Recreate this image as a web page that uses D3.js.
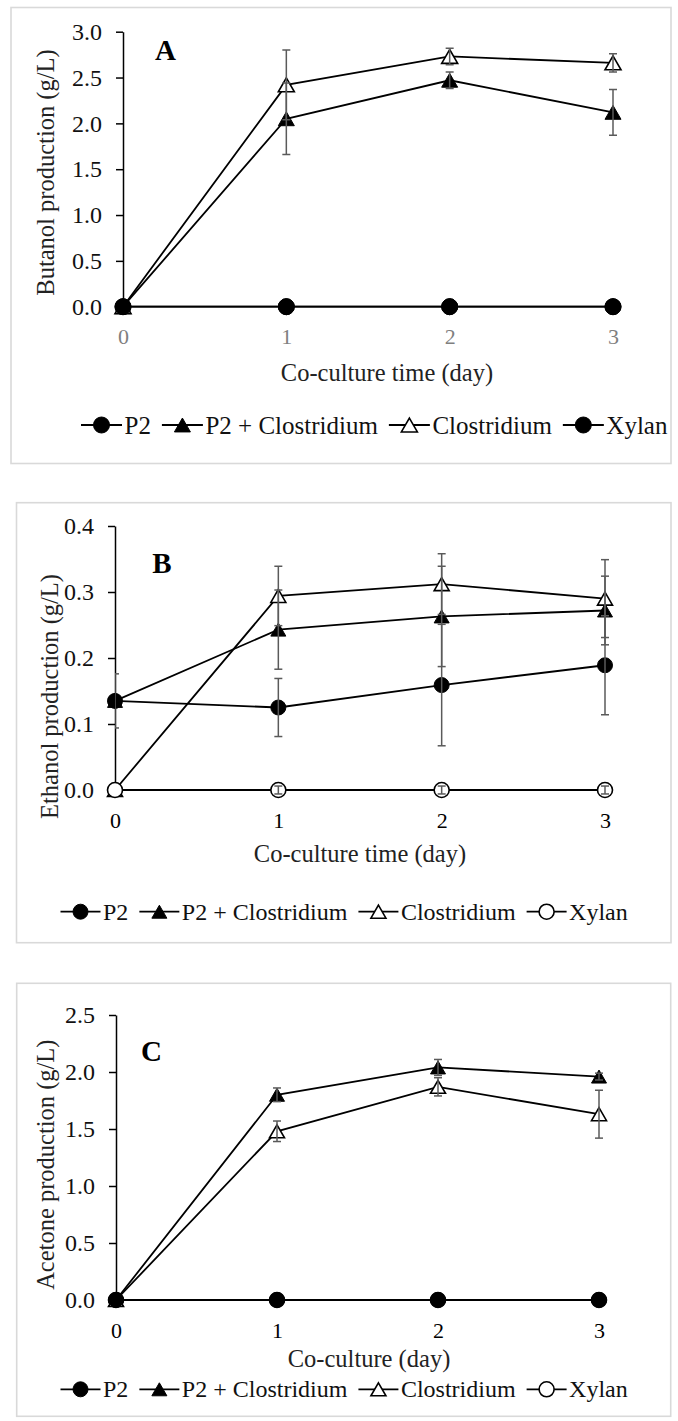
<!DOCTYPE html>
<html>
<head>
<meta charset="utf-8">
<script src="https://cdn.jsdelivr.net/npm/d3@7"></script>
<style>
  body { margin: 0; background: #fff; }
  svg { display: block; }
</style>
</head>
<body>
<svg id="fig" width="678" height="1421"></svg>
<script>
// ---- data ----
const days = [0, 1, 2, 3];
const seriesNames = ["P2", "P2 + Clostridium", "Clostridium", "Xylan"];

// Butanol (g/L)
const butanolP2       = [0, 0, 0, 0];
const butanolP2Clos   = [0, 2.05, 2.47, 2.12];
const butanolClos     = [0, 2.42, 2.73, 2.66];
const butanolXylan    = [0, 0, 0, 0];
const butanolP2Err     = [0, 0, 0, 0];
const butanolP2ClosErr = [0, 0.39, 0.09, 0.25];
const butanolClosErr   = [0, 0.38, 0.09, 0.10];
const butanolXylanErr  = [0, 0, 0, 0];
const butanolTicks = [0, 0.5, 1.0, 1.5, 2.0, 2.5, 3.0];

// Ethanol (g/L)
const ethanolP2       = [0.135, 0.125, 0.159, 0.189];
const ethanolP2Clos   = [0.135, 0.243, 0.263, 0.272];
const ethanolClos     = [0, 0.294, 0.312, 0.290];
const ethanolXylan    = [0, 0, 0, 0];
const ethanolP2Err     = [0.041, 0.044, 0.092, 0.075];
const ethanolP2ClosErr = [0, 0.060, 0.076, 0.052];
const ethanolClosErr   = [0, 0.045, 0.046, 0.059];
const ethanolXylanErr  = [0, 0.006, 0.006, 0.006];
const ethanolTicks = [0, 0.1, 0.2, 0.3, 0.4];

// Acetone (g/L)
const acetoneP2       = [0, 0, 0, 0];
const acetoneP2Clos   = [0, 1.80, 2.04, 1.96];
const acetoneClos     = [0, 1.48, 1.87, 1.63];
const acetoneXylan    = [0, 0, 0, 0];
const acetoneP2Err     = [0, 0, 0, 0];
const acetoneP2ClosErr = [0, 0.06, 0.07, 0.03];
const acetoneClosErr   = [0, 0.09, 0.08, 0.21];
const acetoneXylanErr  = [0, 0, 0, 0];
const acetoneTicks = [0, 0.5, 1.0, 1.5, 2.0, 2.5];

const FONT = "'Liberation Serif', 'Times New Roman', serif";

// ---- panel layout ----
const panels = [
  {
    letter: "A", frame: [11, 7.5, 660, 456],
    axisX: 123, xEnd: 613, yBottom: 306.7, yTop: 31.7, yMax: 3.0, ticks: butanolTicks,
    values: [butanolP2, butanolP2Clos, butanolClos, butanolXylan],
    errors: [butanolP2Err, butanolP2ClosErr, butanolClosErr, butanolXylanErr],
    markers: [["circle", true], ["triangle", true], ["triangle", false], ["circle", true]],
    order: [0, 1, 2, 3],
    r: 8, tri: 16,
    yTitle: "Butanol production (g/L)", yTitlePos: [45.5, 172.5],
    xTitle: "Co-culture time (day)", xTitlePos: [387, 372.7],
    letterPos: [165.5, 50], xTickColor: "#7f7f7f",
    legendY: 425, legendX: 81, legendFont: 25, legendLine: 41
  },
  {
    letter: "B", frame: [16.5, 502.7, 654.5, 440],
    axisX: 115, xEnd: 605, yBottom: 790, yTop: 526, yMax: 0.4, ticks: ethanolTicks,
    values: [ethanolP2, ethanolP2Clos, ethanolClos, ethanolXylan],
    errors: [ethanolP2Err, ethanolP2ClosErr, ethanolClosErr, ethanolXylanErr],
    markers: [["circle", true], ["triangle", true], ["triangle", false], ["circle", false]],
    order: [0, 1, 2, 3],
    r: 7.5, tri: 15,
    yTitle: "Ethanol production (g/L)", yTitlePos: [49, 696.5],
    xTitle: "Co-culture time (day)", xTitlePos: [360, 853.3],
    letterPos: [162, 562.5], xTickColor: "#000",
    legendY: 911.7, legendX: 60.5, legendFont: 24, legendLine: 40
  },
  {
    letter: "C", frame: [16.7, 983.3, 654, 433],
    axisX: 116, xEnd: 599, yBottom: 1300, yTop: 1015, yMax: 2.5, ticks: acetoneTicks,
    values: [acetoneP2, acetoneP2Clos, acetoneClos, acetoneXylan],
    errors: [acetoneP2Err, acetoneP2ClosErr, acetoneClosErr, acetoneXylanErr],
    markers: [["circle", true], ["triangle", true], ["triangle", false], ["circle", false]],
    order: [3, 1, 2, 0],
    r: 7.5, tri: 15,
    yTitle: "Acetone production (g/L)", yTitlePos: [45.5, 1164.7],
    xTitle: "Co-culture (day)", xTitlePos: [369, 1358.3],
    letterPos: [151.5, 1051], xTickColor: "#000",
    legendY: 1389.3, legendX: 60.5, legendFont: 24, legendLine: 40
  }
];

const svg = d3.select("#fig");

function markerPath(kind, p) {
  if (kind === "circle") {
    return d3.symbol(d3.symbolCircle, Math.PI * p.r * p.r)();
  }
  const s = p.tri;
  return d3.symbol(d3.symbolTriangle, s * s * Math.sqrt(3) / 4)();
}
function markerOffset(kind, p) {
  // centre the triangle's bounding box on the point
  if (kind === "circle") return 0;
  return p.tri / (2 * Math.sqrt(3)) / 2;
}
function drawMarker(g, kind, filled, p, cx, cy) {
  g.append("path")
    .attr("d", markerPath(kind, p))
    .attr("transform", `translate(${cx},${cy + markerOffset(kind, p)})`)
    .attr("fill", filled ? "#000" : "#fff")
    .attr("stroke", "#000")
    .attr("stroke-width", filled ? 1 : 1.6);
}
function serif(sel, size) {
  return sel.style("font-family", FONT).style("font-size", size + "px");
}

panels.forEach((p, pi) => {
  const g = svg.append("g");

  // outer frame
  g.append("rect")
    .attr("x", p.frame[0]).attr("y", p.frame[1])
    .attr("width", p.frame[2]).attr("height", p.frame[3])
    .attr("fill", "none").attr("stroke", "#d9d9d9").attr("stroke-width", 1.6);

  const x = d3.scaleLinear().domain([0, 3]).range([p.axisX, p.xEnd]);
  const y = d3.scaleLinear().domain([0, p.yMax]).range([p.yBottom, p.yTop]);

  // y axis
  const ya = g.append("g")
    .attr("transform", `translate(${p.axisX},0)`)
    .call(d3.axisLeft(y).tickValues(p.ticks).tickFormat(d3.format(".1f"))
      .tickSize(7).tickSizeOuter(0).tickPadding(14));
  ya.select(".domain").attr("stroke", "#000").attr("stroke-width", 1.5);
  ya.selectAll(".tick line").attr("stroke", "#000").attr("stroke-width", 1.5);
  serif(ya.selectAll(".tick text"), 24).attr("fill", "#111");

  // x tick labels
  const xa = g.append("g")
    .attr("transform", `translate(0,${p.yBottom})`)
    .call(d3.axisBottom(x).tickValues(days).tickFormat(d3.format("d")).tickSize(0));
  xa.select(".domain").remove();
  serif(xa.selectAll(".tick text").attr("y", 30).attr("dy", "0.35em"), 22)
    .attr("fill", p.xTickColor);

  const series = p.values.map((vals, si) => days.map((d, i) => ({ day: d, v: vals[i], e: p.errors[si][i] })));

  // lines
  const line = d3.line().x(d => x(d.day)).y(d => y(d.v));
  p.order.forEach(si => {
    g.append("path").datum(series[si])
      .attr("d", line).attr("fill", "none")
      .attr("stroke", "#000").attr("stroke-width", 1.8);
  });

  // markers
  p.order.forEach(si => {
    const [kind, filled] = p.markers[si];
    series[si].forEach(d => drawMarker(g, kind, filled, p, x(d.day), y(d.v)));
  });

  // error bars, clipped to the plot area
  const clipId = "plot-clip-" + pi;
  svg.append("clipPath").attr("id", clipId)
    .append("rect").attr("x", p.axisX).attr("y", p.yTop - 20)
    .attr("width", p.xEnd - p.axisX + 30).attr("height", p.yBottom - p.yTop + 40);
  const eb = g.append("g").attr("clip-path", `url(#${clipId})`)
    .attr("stroke", "#5a5a5a").attr("stroke-width", 1.5).attr("fill", "none");
  p.order.forEach(si => {
    series[si].filter(d => d.e > 0).forEach(d => {
      const cx = x(d.day), y1 = y(d.v + d.e), y2 = y(d.v - d.e);
      eb.append("line").attr("x1", cx).attr("x2", cx).attr("y1", y1).attr("y2", y2);
      eb.append("line").attr("x1", cx - 4).attr("x2", cx + 4).attr("y1", y1).attr("y2", y1);
      eb.append("line").attr("x1", cx - 4).attr("x2", cx + 4).attr("y1", y2).attr("y2", y2);
    });
  });

  // panel letter
  serif(g.append("text"), 29)
    .attr("x", p.letterPos[0]).attr("y", p.letterPos[1])
    .attr("text-anchor", "middle").attr("dominant-baseline", "central")
    .style("font-weight", "bold").attr("fill", "#000")
    .text(p.letter);

  // axis titles
  serif(g.append("text"), 24.5)
    .attr("transform", `translate(${p.yTitlePos[0]},${p.yTitlePos[1]}) rotate(-90)`)
    .attr("text-anchor", "middle").attr("dominant-baseline", "central")
    .attr("fill", "#222")
    .text(p.yTitle);
  serif(g.append("text"), 24.5)
    .attr("x", p.xTitlePos[0]).attr("y", p.xTitlePos[1])
    .attr("text-anchor", "middle").attr("dominant-baseline", "central")
    .attr("fill", "#222")
    .text(p.xTitle);

  // legend
  let lx = p.legendX;
  seriesNames.forEach((name, si) => {
    const [kind, filled] = p.markers[si];
    g.append("line")
      .attr("x1", lx).attr("x2", lx + p.legendLine)
      .attr("y1", p.legendY).attr("y2", p.legendY)
      .attr("stroke", "#000").attr("stroke-width", 1.8);
    drawMarker(g, kind, filled, p, lx + p.legendLine / 2, p.legendY);
    const t = serif(g.append("text"), p.legendFont)
      .attr("x", lx + p.legendLine + 2.5).attr("y", p.legendY)
      .attr("dominant-baseline", "central")
      .attr("fill", "#111")
      .text(name);
    lx += p.legendLine + 2.5 + t.node().getComputedTextLength() + 11;
  });
});
</script>
</body>
</html>
